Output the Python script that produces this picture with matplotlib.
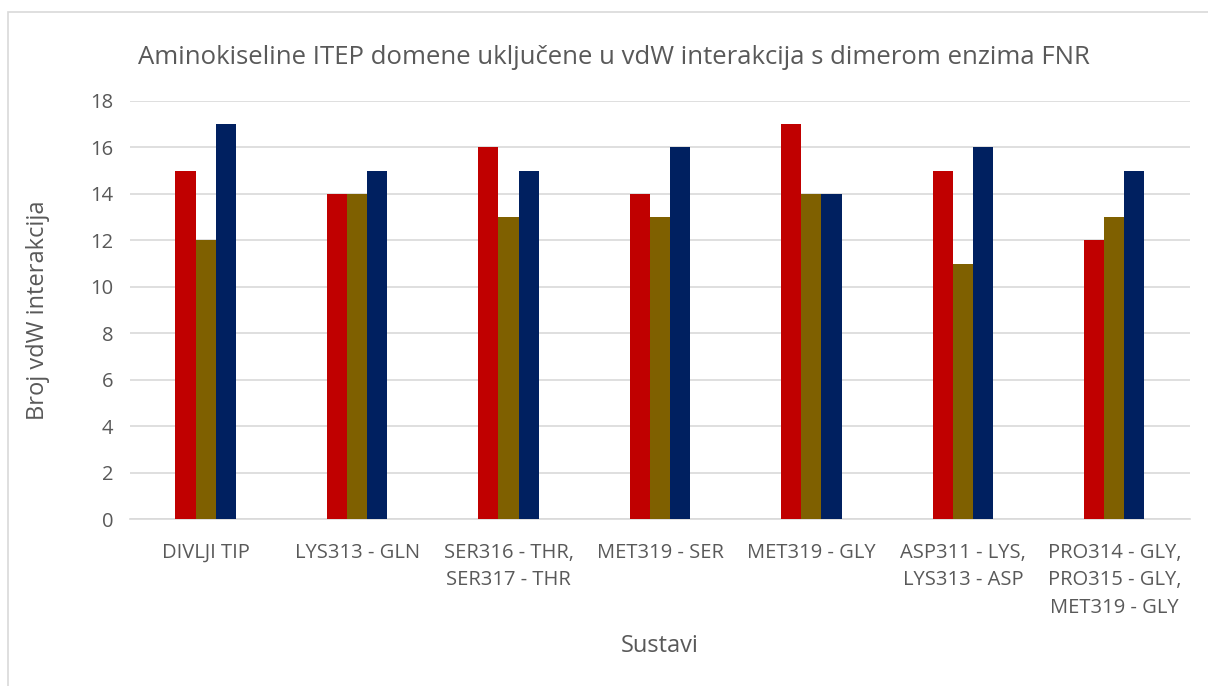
import numpy as np
import matplotlib
matplotlib.use('Agg')
import matplotlib.pyplot as plt
from matplotlib.patches import Rectangle

plt.rcParams['font.family'] = ['Open Sans', 'DejaVu Sans']

sustavi = ['DIVLJI TIP', 'LYS313 - GLN', 'SER316 - THR,\nSER317 - THR', 'MET319 - SER',
           'MET319 - GLY', 'ASP311 - LYS,\nLYS313 - ASP', 'PRO314 - GLY,\nPRO315 - GLY,\nMET319 - GLY']
serija1 = [15, 14, 16, 14, 17, 15, 12]
serija2 = [12, 14, 13, 13, 14, 11, 13]
serija3 = [17, 15, 15, 16, 14, 16, 15]
boje = ['#C00000', '#7F6000', '#002060']

fig = plt.figure(figsize=(12.08, 6.86), dpi=100)
ax = fig.add_axes([0.1076, 0.2434, 0.8775, 0.6094])

# okvir grafikona kao u excelu
fig.patches.append(Rectangle((8/1208, -0.1), 1.2, (686-12)/686 + 0.1, transform=fig.transFigure,
                             fill=False, edgecolor='#D9D9D9', linewidth=1.2))

x = np.arange(len(sustavi))
w = 0.133
for i, (vals, c) in enumerate(zip([serija1, serija2, serija3], boje)):
    ax.bar(x + (i - 1) * w, vals, width=w, color=c, zorder=3)

ax.set_xlim(-0.5, len(sustavi) - 0.5)
ax.set_ylim(0, 18)
ax.set_yticks(range(0, 19, 2))
ax.set_xticks(x)
ax.set_xticklabels(sustavi, fontsize=14.5, color='#595959', linespacing=1.5, va='top')
ax.tick_params(axis='y', labelsize=14.5, labelcolor='#595959', length=0, pad=12)
ax.tick_params(axis='x', length=0, pad=17)
ax.grid(axis='y', color='#D9D9D9', linewidth=1.2, zorder=0)
for s in ['top', 'right', 'left']:
    ax.spines[s].set_visible(False)
ax.spines['bottom'].set_color('#D9D9D9')
ax.spines['bottom'].set_linewidth(1.2)

ax.set_ylabel('Broj vdW interakcija', fontsize=17, color='#595959', labelpad=29)
ax.set_xlabel('Sustavi', fontsize=17, color='#595959', labelpad=12)
fig.text(0.508, 0.916, 'Aminokiseline ITEP domene uključene u vdW interakcija s dimerom enzima FNR',
         ha='center', va='center', fontsize=18.5, color='#595959')

fig.savefig('out.png', dpi=100)
